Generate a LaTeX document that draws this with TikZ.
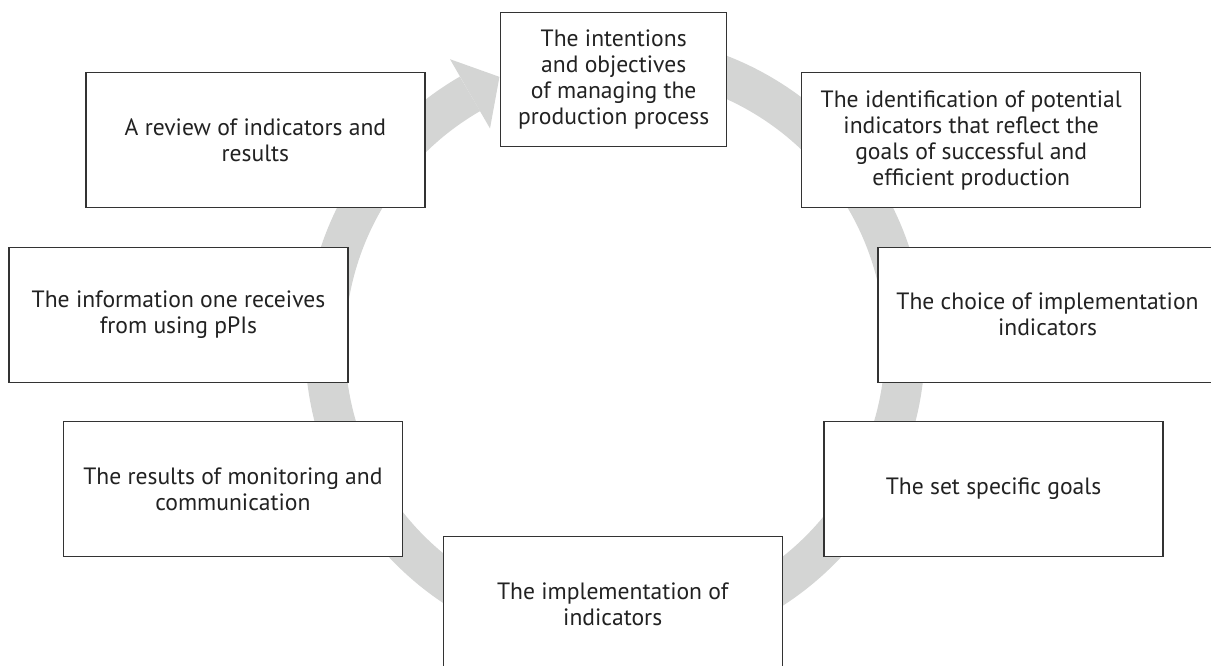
\documentclass[tikz,border=0pt]{standalone}
\usepackage{fontspec}
\setmainfont{PT Sans}
\usepackage{tikz}
\usetikzlibrary{calc}
\definecolor{ringgray}{RGB}{212,213,212}
\definecolor{boxline}{RGB}{51,51,51}
\definecolor{textgray}{RGB}{34,34,34}

\begin{document}
\begin{tikzpicture}[x=1pt,y=1pt,
	stage/.style={draw=boxline,line width=1.3pt,fill=white,text=textgray,align=center,
		minimum width=339pt,minimum height=135pt,inner sep=0pt,font=\fontsize{23.6}{26}\selectfont}]

	\useasboundingbox (0,0) rectangle (1211,666);
	\coordinate (c) at (615,321);

	% ring with its head
	\draw[ringgray,line width=40pt] ($(c)+(95:290)$) arc[start angle=95,end angle=-240,radius=290];
	\fill[ringgray] ($(c)+(120:250)$) -- ($(c)+(120:330)$) -- ($(c)+(120:290)+(30:34)$) -- cycle;

	\node[stage,minimum width=226pt,minimum height=134pt] (intent) at (613.7,586.5) {The intentions\\and objectives\\of managing the\\production process};
	\node[stage] (ident) at (971.2,525.8) {The identification of potential\\indicators that reflect the\\goals of successful and\\efficient production};
	\node[stage] (choice) at (1047.5,351.3) {The choice of implementation\\indicators};
	\node[stage] (goals) at (993.5,177.1) {The set specific goals};
	\node[stage] (impl) at (612.7,61.8) {The implementation of\\indicators};
	\node[stage] (results) at (232.9,177.1) {The results of monitoring and\\communication};
	\node[stage] (info) at (178.5,351.3) {The information one receives\\from using pPIs};
	\node[stage] (review) at (255.4,525.8) {A review of indicators and\\results};

\end{tikzpicture}
\end{document}
